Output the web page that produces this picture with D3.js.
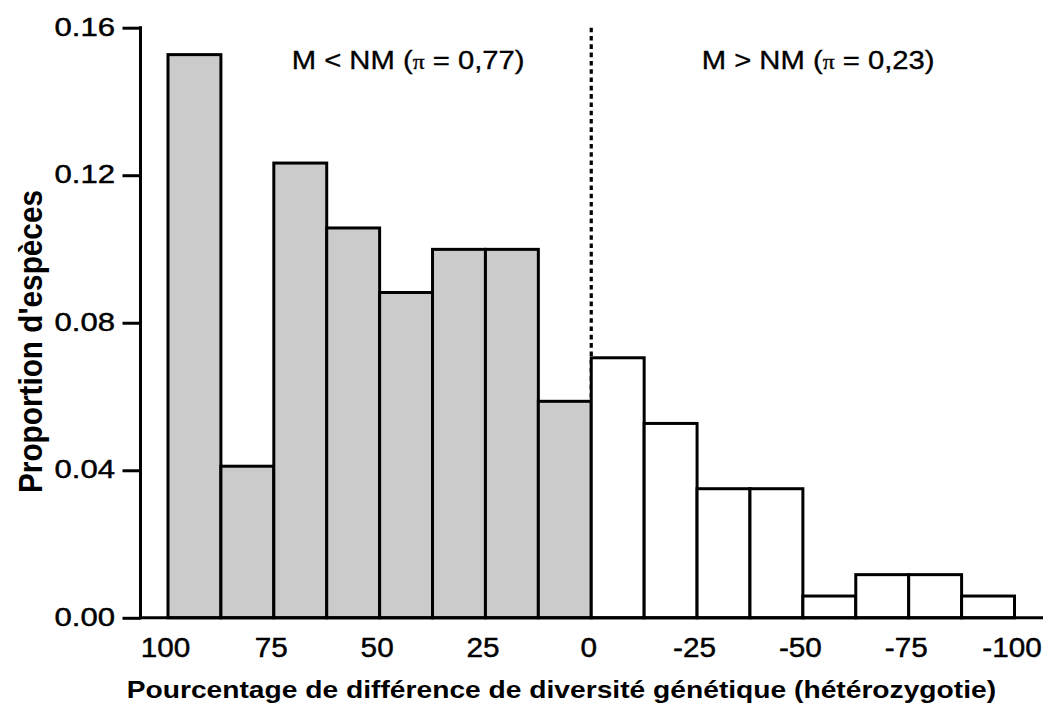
<!DOCTYPE html>
<html>
<head>
<meta charset="utf-8">
<script src="https://cdn.jsdelivr.net/npm/d3@7"></script>
<style>
  html, body { margin: 0; padding: 0; background: #fff; }
  svg { display: block; }
  text { font-family: "Liberation Sans", Arial, sans-serif; fill: #000; }
</style>
</head>
<body>
<svg id="chart" width="1045" height="703"></svg>
<script>
// ---- data ----
const binStarts = [100, 87.5, 75, 62.5, 50, 37.5, 25, 12.5, 0, -12.5, -25, -37.5, -50, -62.5, -75, -87.5];
const binEnds   = [87.5, 75, 62.5, 50, 37.5, 25, 12.5, 0, -12.5, -25, -37.5, -50, -62.5, -75, -87.5, -100];
const proportions = [0.1527, 0.0411, 0.1233, 0.1057, 0.0882, 0.0999, 0.0999, 0.0587,
                     0.0705, 0.0527, 0.0350, 0.0350, 0.0059, 0.0117, 0.0117, 0.0059];
const groups = ["M<NM","M<NM","M<NM","M<NM","M<NM","M<NM","M<NM","M<NM",
                "M>NM","M>NM","M>NM","M>NM","M>NM","M>NM","M>NM","M>NM"];
const xTicks = [100, 75, 50, 25, 0, -25, -50, -75, -100];
const yTicks = [0, 0.04, 0.08, 0.12, 0.16];
const annotations = [
  { pre: "M < NM (", pi: "\u03C0", post: " = 0,77)" },
  { pre: "M > NM (", pi: "\u03C0", post: " = 0,23)" }
];
const xTitle = "Pourcentage de différence de diversité génétique (hétérozygotie)";
const yTitle = "Proportion d'espèces";

// ---- layout ----
const svg = d3.select("#chart");
const x = d3.scaleLinear().domain([100, -100]).range([168, 1014.5]);
const y = d3.scaleLinear().domain([0, 0.16]).range([617.8, 27.7]);
const axisX0 = 140.5;
const color = d3.scaleOrdinal().domain(["M<NM","M>NM"]).range(["#cbcbcb","#ffffff"]);

// dotted separator at 0
svg.append("line")
  .attr("x1", x(0)).attr("x2", x(0))
  .attr("y1", y(0.16)).attr("y2", y(0))
  .attr("stroke", "#000").attr("stroke-width", 3.2)
  .attr("stroke-dasharray", "4.6,3.7");

// bars
const bars = proportions.map((v, i) => ({ s: binStarts[i], e: binEnds[i], v, g: groups[i] }));
svg.append("g").selectAll("rect").data(bars).join("rect")
  .attr("x", d => x(d.s))
  .attr("width", d => x(d.e) - x(d.s))
  .attr("y", d => y(d.v))
  .attr("height", d => y(0) - y(d.v))
  .attr("fill", d => color(d.g))
  .attr("stroke", "#000")
  .attr("stroke-width", 3);

// y axis
const yAxis = svg.append("g")
  .attr("transform", `translate(${axisX0},0)`)
  .call(d3.axisLeft(y).tickValues(yTicks).tickFormat(d3.format(".2f")).tickSize(18).tickPadding(0));
yAxis.select(".domain").remove();
yAxis.selectAll(".tick line").attr("stroke", "#000").attr("stroke-width", 3);
yAxis.selectAll(".tick text")
  .attr("font-size", 25.5)
  .attr("text-anchor", "end")
  .attr("x", -25.5 / 1.22)
  .attr("dy", null)
  .attr("y", 7.5)
  .attr("stroke", "#000").attr("stroke-width", 0.45)
  .attr("transform", "scale(1.22,1)");
svg.append("line")
  .attr("x1", axisX0).attr("x2", axisX0)
  .attr("y1", y(0.16) - 1.5).attr("y2", y(0) + 1.5)
  .attr("stroke", "#000").attr("stroke-width", 3);

// x axis
const xAxis = svg.append("g")
  .attr("transform", `translate(0,${y(0)})`)
  .call(d3.axisBottom(x).tickValues(xTicks).tickFormat(d => String(d)).tickSize(0).tickPadding(0));
xAxis.select(".domain").remove();
xAxis.selectAll(".tick text")
  .attr("font-size", 27)
  .attr("text-anchor", "middle")
  .attr("x", -3 / 1.1)
  .attr("dy", null)
  .attr("y", 38.8)
  .attr("stroke", "#000").attr("stroke-width", 0.45)
  .attr("transform", "scale(1.1,1)");
svg.append("line")
  .attr("x1", axisX0 - 1.5).attr("x2", 1043)
  .attr("y1", y(0)).attr("y2", y(0))
  .attr("stroke", "#000").attr("stroke-width", 3);

// helper: stretch text horizontally to a target width (start-anchored)
function fit(sel, tx, ty, width) {
  const w = sel.node().getComputedTextLength();
  sel.attr("transform", `translate(${tx},${ty}) scale(${width / w},1)`);
}

// annotations
const annStart = [291.7, 701.7];
annotations.forEach((a, i) => {
  const t = svg.append("text").attr("font-size", 26).attr("x", 0).attr("y", 0)
    .attr("stroke", "#000").attr("stroke-width", 0.35);
  t.append("tspan").text(a.pre);
  t.append("tspan").attr("font-family", "'Liberation Serif', 'Times New Roman', serif").attr("font-size", 21).text(a.pi);
  t.append("tspan").text(a.post);
  fit(t, annStart[i], 69.3, 233);
});

// x title
const xt = svg.append("text").attr("font-size", 23).attr("font-weight", "bold")
  .attr("x", 0).attr("y", 0).text(xTitle);
fit(xt, 126.7, 697.5, 870);

// y title
svg.append("text")
  .attr("font-size", 30).attr("font-weight", "bold")
  .attr("text-anchor", "middle")
  .attr("textLength", 303).attr("lengthAdjust", "spacingAndGlyphs")
  .attr("transform", "translate(41.7,341.5) rotate(-90) scale(1,1.08)")
  .text(yTitle);
</script>
</body>
</html>
